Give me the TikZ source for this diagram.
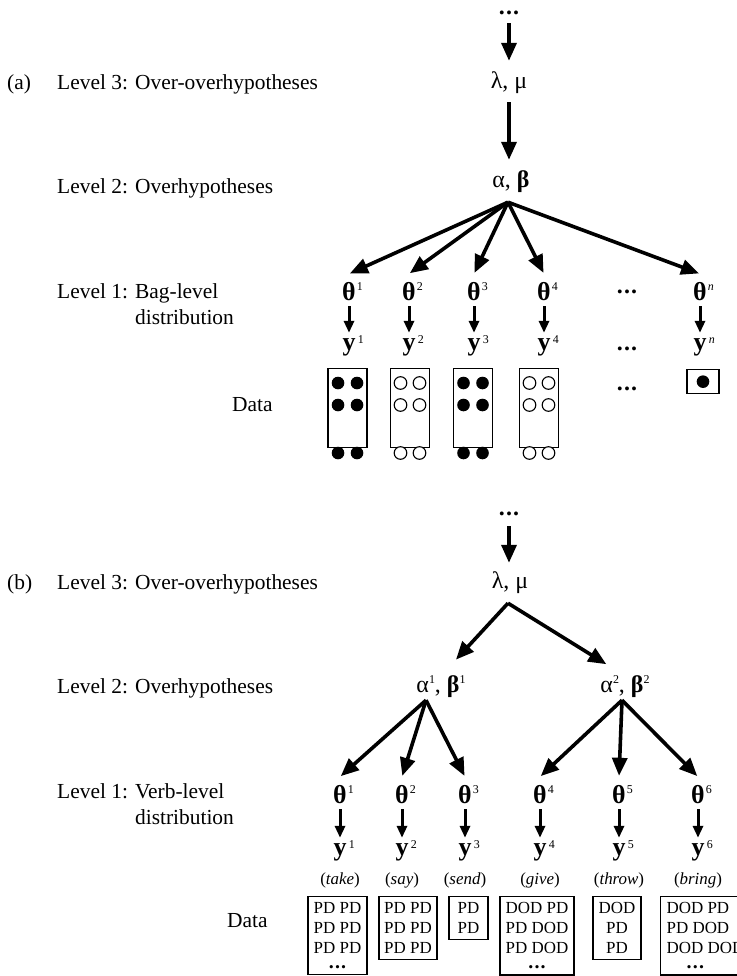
\documentclass[tikz,border=0pt]{standalone}
\usepackage{fontspec}
\setmainfont{Liberation Serif}
\usetikzlibrary{arrows.meta,calc,positioning}

% superscripts on the variables
\newcommand{\supth}[1]{\rlap{\hspace{1bp}\raisebox{9.5bp}{\fontsize{12}{12}\selectfont\mdseries #1}}}
\newcommand{\supy}[1]{\rlap{\hspace{2.5bp}\raisebox{7bp}{\fontsize{12}{12}\selectfont\mdseries #1}}}
\newcommand{\supab}[1]{\raisebox{9bp}{\fontsize{12}{12}\selectfont\mdseries #1}}
\newcommand{\bth}[1]{\textbf{θ}\supth{#1}}
\newcommand{\bvy}[1]{\textbf{y}\supy{#1}}
\newcommand{\vdotsrow}{\textbf{.\kern1.2bp.\kern1.2bp.}}
\newcommand{\boxdots}{{\fontsize{20}{20}\selectfont\vdotsrow}}

\tikzset{
    lvl/.style={anchor=base west, inner sep=0pt, font=\fontsize{21.5}{27}\selectfont},
    var/.style={anchor=base, inner sep=0pt, text height=16bp, text depth=4bp,
                font=\fontsize{24}{24}\selectfont},
    dotvar/.style={var, text height=5bp, text depth=1bp},
    thvar/.style={var, text height=26bp, font=\fontsize{26}{26}\selectfont},
    yvar/.style={var, text height=17bp, text depth=6bp, font=\fontsize{26}{26}\selectfont},
    verb/.style={anchor=base, inner sep=0pt, font=\fontsize{17}{17}\selectfont},
    link/.style={line width=3.6bp, -{Triangle[length=18bp,width=15bp]},
                 shorten >=11bp, shorten <=10bp},
    gen/.style={line width=3bp, -{Triangle[length=12bp,width=10bp]},
                shorten <=2bp, shorten >=0bp},
    bagbox/.style={draw, line width=1.3bp, minimum width=39bp, minimum height=79bp,
                   inner sep=0pt, anchor=north},
    fullball/.style={fill=black},
    openball/.style={draw, line width=1.1bp, fill=white},
    databox/.style={draw, line width=1.3bp, anchor=north, inner xsep=0pt, inner ysep=6bp,
                    font=\fontsize{17}{20}\selectfont},
}

\begin{document}
\begin{tikzpicture}[x=1bp, y=-1bp]
    \useasboundingbox (0,0) rectangle (737,976);

    % (a) level labels
    \node[lvl] (tagA) at (7,89) {(a)};
    \node[lvl] (lvlA3) at (57,89) {Level 3: Over-overhypotheses};
    \node[lvl] (lvlA2) at (57,193) {Level 2: Overhypotheses};
    \node[lvl] (lvlA1) at (57,298) {\begin{tabular}[t]{@{}l@{ }l@{}}Level 1: & Bag-level\\ & distribution\end{tabular}};
    \node[lvl] (dataA) at (232,411) {Data};

    % (a) hierarchy
    \node[dotvar] (dotsA) at (509,14) {\vdotsrow};
    \node[var] (lmA) at (509,88) {λ, μ};
    \node[var] (abA) at (511,187) {α, \textbf{β}};
    \foreach \i/\x/\s in {1/349/1, 2/409/2, 3/474/3, 4/544/4, n/700/\textit{n}} {
        \node[thvar] (thA\i) at (\x,300) {\bth{\s}};
        \node[yvar] (yA\i) at (\x,350) {\bvy{\s}};
    }
    \node[dotvar] (thdotsA) at (627,293) {\vdotsrow};
    \node[dotvar] (ydotsA) at (627,350) {\vdotsrow};
    \node[dotvar] (bagdotsA) at (627,390) {\vdotsrow};

    \draw[link, shorten <=8bp] (dotsA) -- (lmA);
    \draw[link] (lmA) -- (lmA |- abA.north);
    \coordinate (fanA) at ($(abA.south)+(-3,11)$);
    \foreach \i in {1,2,3,4,n} {
        \draw[link, shorten <=0pt, shorten >=1bp] (fanA) -- (thA\i.north);
        \draw[gen] (thA\i) -- (yA\i);
    }

    % (a) bags of marbles
    \foreach \i/\x in {1/347.5, 2/410, 3/473, 4/539}
        \node[bagbox] (bag\i) at (\x,368) {};
    \node[bagbox, minimum width=32bp, minimum height=24bp] (bagn) at (703,369) {};
    \foreach \i/\s in {1/fullball, 2/openball, 3/fullball, 4/openball}
        \foreach \dx in {-9.5,9.5}
            \foreach \dy in {15,37,85}
                \path[\s] ($(bag\i.north)+(\dx,\dy)$) circle[radius=6.3bp];
    \path[fullball] (bagn.center) circle[radius=6.3bp];

    % (b) level labels
    \node[lvl] (tagB) at (7,589) {(b)};
    \node[lvl] (lvlB3) at (57,589) {Level 3: Over-overhypotheses};
    \node[lvl] (lvlB2) at (57,693) {Level 2: Overhypotheses};
    \node[lvl] (lvlB1) at (57,798) {\begin{tabular}[t]{@{}l@{ }l@{}}Level 1: & Verb-level\\ & distribution\end{tabular}};
    \node[lvl] (dataB) at (227,927) {Data};

    % (b) hierarchy
    \node[dotvar] (dotsB) at (509,515) {\vdotsrow};
    \node[var] (lmB) at (510,588) {λ, μ};
    \node[var] (abB1) at (441,692) {α\supab{1}, \textbf{β}\supab{1}};
    \node[var] (abB2) at (625,692) {α\supab{2}, \textbf{β}\supab{2}};
    \foreach \i/\x/\v in {1/340/take, 2/402/say, 3/465/send, 4/540/give, 5/619/throw, 6/698/bring} {
        \node[thvar] (thB\i) at (\x,803) {\bth{\i}};
        \node[yvar] (yB\i) at (\x,855) {\bvy{\i}};
        \node[verb] (verb\i) at (\x,884) {(\textit{\v})};
    }

    \draw[link, shorten >=9bp] (dotsB) -- (dotsB |- lmB.north);
    \coordinate (fanB) at ($(lmB.south)+(-2,11)$);
    \draw[link, shorten <=0pt, shorten >=22bp] (fanB) -- (abB1.north);
    \draw[link, shorten <=0pt, shorten >=22bp] (fanB) -- (abB2.north);
    \coordinate (fanB1) at ($(abB1.south)+(-15,4)$);
    \coordinate (fanB2) at ($(abB2.south)+(-3,4)$);
    \foreach \i in {1,2,3}
        \draw[link, shorten <=0pt, shorten >=1bp] (fanB1) -- (thB\i.north);
    \foreach \i in {4,5,6}
        \draw[link, shorten <=0pt, shorten >=1bp] (fanB2) -- (thB\i.north);
    \foreach \i in {1,...,6}
        \draw[gen] (thB\i) -- (yB\i);

    % (b) observed constructions
    \node[databox, minimum width=59bp, align=center] (obs1) at (337.5,896)
        {PD PD\\PD PD\\PD PD\\[-5bp]\boxdots};
    \node[databox, minimum width=58bp, align=center] (obs2) at (408,896)
        {PD PD\\PD PD\\PD PD};
    \node[databox, minimum width=39bp, align=center] (obs3) at (468.5,896)
        {PD\\PD};
    \node[databox, minimum width=74bp, align=center] (obs4) at (537,896)
        {DOD PD\\PD DOD\\PD DOD\\[-5bp]\boxdots};
    \node[databox, minimum width=48bp, align=center] (obs5) at (617,896)
        {DOD\\PD\\PD};
    \node[databox, anchor=north west, inner xsep=6bp, align=left] (obs6) at (660,896)
        {DOD PD\\PD DOD\\DOD DOD\\[-5bp]\hspace*{20bp}\boxdots};
\end{tikzpicture}
\end{document}
